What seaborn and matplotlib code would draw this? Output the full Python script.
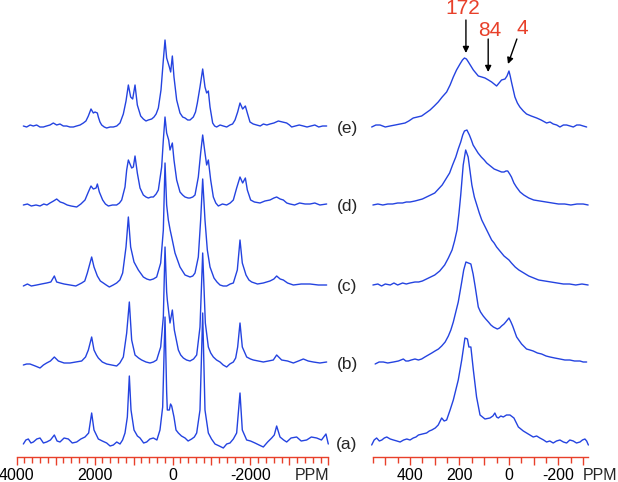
import matplotlib
matplotlib.use("Agg")
import matplotlib.pyplot as plt
from matplotlib.ticker import FixedLocator, FixedFormatter
import seaborn as sns

sns.set_style("white")
plt.rcParams["font.family"] = ["Liberation Sans", "DejaVu Sans"]

BLUE = "#2443e0"
RED = "#e8402a"

labels = ["(a)", "(b)", "(c)", "(d)", "(e)"]
offsets = [15, 95, 172, 252, 331]

# wide sweep spectra: (ppm, intensity above own baseline)
wide_a = [(3825, -2), (3760, 2), (3697, 3), (3630, -1), (3568, 0), (3480, 3), (3397, 4),
          (3310, -1), (3227, 0), (3130, 2), (3030, 7), (2960, 1), (2885, 0), (2780, 4),
          (2671, 3), (2570, -1), (2457, 0), (2350, 3), (2244, 5), (2150, 9), (2073, 29),
          (2013, 12), (1902, 3), (1800, 1), (1688, -1), (1600, -4), (1517, -3), (1430, 0),
          (1346, -2), (1280, 2), (1218, 9), (1158, 25), (1107, 66), (1064, 32), (987, 12),
          (900, 6), (833, 4), (740, -1), (662, 0), (580, 3), (491, 4), (400, 2), (321, 12),
          (252, 35), (192, 125), (150, 50), (133, 32), (81, 32), (50, 38), (21, 36),
          (-38, 25), (-90, 12), (-150, 9), (-230, 6), (-321, 4), (-400, 1), (-491, 3),
          (-560, 5), (-620, 9), (-705, 32), (-774, 129), (-833, 32), (-919, 9), (-1000, 3),
          (-1090, -2), (-1200, -4), (-1303, -6), (-1390, -2), (-1474, -1), (-1560, 3),
          (-1645, 9), (-1731, 49), (-1790, 12), (-1902, 2), (-2000, 1), (-2115, -1),
          (-2220, -3), (-2329, -5), (-2440, 0), (-2543, 4), (-2610, 7), (-2671, 16),
          (-2757, 5), (-2850, 2), (-2928, 0), (-3040, 4), (-3184, 5), (-3300, 1), (-3440, 2),
          (-3560, 5), (-3697, 4), (-3820, 2), (-3935, 8), (-3995, -2)]

wide_b = [(3825, -3), (3740, -2), (3654, -2), (3520, -4), (3397, -6), (3310, -3), (3227, -1),
          (3130, 1), (3030, 5), (2927, 1), (2780, -1), (2628, -1), (2480, 0), (2329, 1),
          (2230, 5), (2158, 12), (2073, 25), (2013, 12), (1950, 7), (1902, 4), (1800, 0),
          (1688, -2), (1560, -3), (1432, -4), (1350, -1), (1261, 5), (1175, 29), (1107, 60),
          (1047, 22), (961, 7), (870, 4), (791, 2), (680, 0), (577, -1), (490, 0), (406, 2),
          (303, 15), (235, 45), (192, 115), (150, 70), (133, 62), (64, 39), (4, 52),
          (-47, 32), (-150, 12), (-210, 7), (-278, 4), (-360, 2), (-449, 1), (-540, 3),
          (-620, 7), (-705, 35), (-774, 109), (-842, 39), (-919, 15), (-980, 9), (-1047, 5),
          (-1130, 2), (-1218, 0), (-1300, -3), (-1389, -5), (-1470, -2), (-1560, 0),
          (-1620, 4), (-1671, 15), (-1731, 39), (-1790, 15), (-1902, 5), (-2000, 3),
          (-2073, 2), (-2200, 1), (-2329, 0), (-2460, 1), (-2585, 2), (-2671, 7), (-2799, 2),
          (-2950, 1), (-3099, -1), (-3230, 1), (-3355, 3), (-3480, 1), (-3611, 0),
          (-3780, -1), (-3953, 0)]

wide_c = [(3825, -1), (3720, 1), (3620, -1), (3483, 0), (3360, 1), (3227, 2), (3120, 3),
          (3030, 9), (2970, 3), (2880, 2), (2780, 1), (2628, 0), (2480, -1), (2329, 2),
          (2250, 4), (2184, 12), (2073, 28), (2013, 18), (1927, 9), (1850, 4), (1774, 2),
          (1700, 0), (1620, -2), (1520, 0), (1432, 2), (1350, 5), (1278, 12), (1192, 38),
          (1132, 68), (1073, 38), (987, 23), (876, 15), (748, 8), (660, 6), (577, 5),
          (490, 6), (406, 8), (303, 22), (235, 55), (192, 122), (150, 80), (107, 65),
          (60, 55), (21, 48), (-64, 32), (-192, 18), (-321, 10), (-449, 8), (-520, 9),
          (-577, 12), (-662, 28), (-722, 65), (-774, 106), (-833, 65), (-893, 35),
          (-962, 18), (-1064, 7), (-1140, 3), (-1218, 0), (-1300, -1), (-1389, -1),
          (-1480, 1), (-1560, 2), (-1662, 15), (-1731, 45), (-1790, 22), (-1885, 10),
          (-1960, 5), (-2030, 3), (-2180, 1), (-2329, 2), (-2500, 4), (-2600, 6), (-2671, 9),
          (-2760, 6), (-2842, 5), (-2950, 2), (-3099, 0), (-3300, 1), (-3526, 1),
          (-3740, 0), (-3953, 0)]

wide_d = [(3825, 0), (3720, 1), (3620, -1), (3500, 0), (3397, -1), (3300, 1), (3220, 0),
          (3141, 2), (3050, 4), (2970, 6), (2880, 3), (2799, 2), (2700, 0), (2600, -1),
          (2457, -2), (2350, 1), (2244, 5), (2158, 13), (2090, 19), (2030, 16), (1960, 17),
          (1927, 21), (1876, 13), (1791, 5), (1720, 1), (1645, -1), (1540, 0), (1432, 0),
          (1360, 2), (1303, 5), (1218, 18), (1175, 35), (1132, 45), (1047, 37), (1004, 38),
          (961, 49), (902, 32), (833, 17), (748, 10), (680, 8), (620, 7), (550, 8),
          (491, 8), (420, 11), (363, 15), (278, 38), (235, 65), (192, 88), (150, 72),
          (98, 65), (64, 55), (4, 62), (-38, 45), (-107, 25), (-192, 13), (-260, 10),
          (-321, 8), (-400, 7), (-449, 7), (-520, 8), (-577, 10), (-662, 28), (-722, 52),
          (-774, 70), (-833, 52), (-876, 40), (-919, 45), (-979, 25), (-1047, 8),
          (-1110, 2), (-1175, -1), (-1280, 1), (-1389, 0), (-1480, 2), (-1560, 5),
          (-1645, 17), (-1731, 28), (-1799, 22), (-1868, 27), (-1919, 15), (-2004, 5),
          (-2100, 3), (-2244, 2), (-2370, 4), (-2500, 5), (-2600, 7), (-2671, 8),
          (-2760, 6), (-2842, 5), (-2930, 2), (-3013, 1), (-3130, 0), (-3260, 2),
          (-3400, 1), (-3526, 1), (-3650, 2), (-3780, 0), (-3953, 1)]

wide_e = [(3825, 0), (3740, -1), (3650, 1), (3570, 0), (3483, 1), (3400, -1), (3312, -1),
          (3230, 0), (3141, 1), (3056, 3), (2970, 1), (2885, 2), (2800, 0), (2714, 0),
          (2630, -1), (2543, -1), (2460, 0), (2370, 1), (2286, 3), (2220, 5), (2158, 10),
          (2090, 17), (2030, 13), (1987, 14), (1927, 13), (1902, 9), (1860, 4), (1816, 1),
          (1750, -1), (1688, -2), (1600, -1), (1517, -1), (1430, 0), (1346, 3), (1261, 12),
          (1192, 25), (1132, 41), (1073, 29), (1021, 27), (961, 41), (902, 21), (816, 10),
          (748, 7), (680, 5), (620, 6), (534, 7), (474, 9), (420, 12), (363, 18), (295, 36),
          (235, 66), (192, 86), (150, 68), (81, 59), (47, 54), (4, 70), (-38, 49),
          (-107, 26), (-192, 13), (-260, 9), (-321, 8), (-390, 6), (-449, 6), (-534, 9),
          (-590, 14), (-637, 23), (-705, 39), (-774, 57), (-833, 39), (-876, 33),
          (-919, 35), (-962, 19), (-1030, 3), (-1080, 0), (-1132, -1), (-1220, 1),
          (-1303, 0), (-1390, -1), (-1474, 1), (-1540, 2), (-1603, 6), (-1671, 14),
          (-1731, 23), (-1799, 17), (-1868, 20), (-1919, 13), (-1987, 4), (-2070, 2),
          (-2158, 1), (-2250, 0), (-2330, 2), (-2420, 1), (-2500, 2), (-2600, 3),
          (-2714, 5), (-2820, 4), (-2928, 3), (-3000, 1), (-3056, -1), (-3150, 0),
          (-3250, 1), (-3355, 0), (-3450, -1), (-3550, 0), (-3650, 1), (-3750, -1),
          (-3850, 0), (-3953, 0)]

# narrow window spectra
narrow_a = [(555, -3), (545, 2), (535, 4), (524, 1), (514, 2), (504, 4), (494, 5), (480, 3),
            (467, 2), (453, 1), (440, 0), (426, 2), (413, 3), (400, 2), (387, 4), (376, 5),
            (366, 7), (350, 8), (333, 9), (322, 11), (312, 12), (298, 14), (286, 17),
            (272, 24), (262, 21), (252, 22), (238, 32), (225, 42), (205, 62), (191, 82),
            (178, 104), (168, 103), (162, 95), (154, 95), (144, 72), (131, 45), (117, 27),
            (97, 23), (77, 24), (65, 26), (57, 29), (50, 25), (43, 24), (33, 26), (23, 25),
            (10, 27), (-4, 27), (-20, 24), (-38, 15), (-58, 11), (-78, 8), (-98, 5),
            (-112, 6), (-125, 4), (-140, 2), (-152, 0), (-165, 1), (-179, -1), (-192, 1),
            (-206, 2), (-220, 0), (-233, -1), (-246, 2), (-260, 1), (-273, -1), (-287, 0),
            (-297, 2), (-307, 3), (-314, 1), (-321, -3)]

narrow_b = [(541, -2), (525, 0), (508, 0), (490, -1), (467, 0), (447, 1), (427, 3), (417, 1),
            (407, 1), (395, 2), (380, 3), (366, 2), (353, 3), (340, 5), (326, 7), (312, 9),
            (299, 11), (285, 13), (272, 16), (258, 20), (245, 26), (235, 32), (225, 40),
            (215, 50), (205, 60), (198, 70), (191, 80), (183, 92), (174, 100), (164, 99),
            (154, 98), (145, 88), (137, 76), (124, 55), (115, 50), (104, 46), (94, 43),
            (83, 40), (73, 37), (63, 35), (55, 34), (47, 33), (38, 34), (30, 36), (20, 38),
            (13, 40), (0, 44), (-8, 40), (-15, 36), (-31, 25), (-51, 18), (-71, 13),
            (-85, 12), (-98, 11), (-115, 9), (-132, 8), (-150, 6), (-166, 5), (-185, 4),
            (-206, 3), (-226, 2), (-246, 2), (-265, 1), (-287, 1), (-300, 0), (-314, 0)]

narrow_c = [(550, 0), (530, 1), (515, -1), (500, 1), (480, 0), (465, 2), (450, 0),
            (430, 2), (415, 1), (400, 2), (380, 3), (365, 3), (350, 4), (325, 7), (300, 10),
            (280, 14), (260, 20), (245, 27), (230, 35), (220, 44), (210, 55), (202, 72),
            (195, 90), (185, 120), (175, 135), (165, 128), (158, 115), (150, 100), (140, 88),
            (130, 80), (120, 72), (110, 65), (100, 60), (90, 55), (80, 50), (70, 45),
            (60, 42), (50, 38), (40, 35), (30, 32), (20, 29), (10, 27), (0, 25), (-10, 22),
            (-25, 18), (-40, 15), (-60, 12), (-80, 9), (-100, 7), (-120, 5), (-145, 4),
            (-170, 3), (-195, 2), (-220, 1), (-245, 1), (-270, 0), (-295, 1), (-320, 0)]

narrow_d = [(550, 0), (530, 1), (510, 0), (490, 1), (470, 1), (450, 2), (430, 2),
            (415, 3), (400, 3), (380, 4), (365, 5), (350, 6), (325, 9), (300, 12),
            (285, 16), (270, 20), (255, 26), (240, 32), (228, 40), (215, 48), (205, 56),
            (195, 63), (187, 70), (180, 74), (170, 75), (160, 70), (152, 65), (145, 60),
            (135, 56), (125, 52), (112, 48), (100, 45), (90, 42), (80, 40), (70, 38),
            (60, 36), (50, 35), (40, 34), (30, 33), (20, 33), (12, 34), (5, 34), (-3, 31),
            (-10, 28), (-20, 22), (-30, 18), (-45, 13), (-60, 10), (-80, 7), (-100, 5),
            (-125, 4), (-150, 3), (-175, 2), (-200, 1), (-225, 1), (-250, 0), (-275, 1),
            (-300, 1), (-320, 0)]

narrow_e = [(555, -1), (538, 1), (521, 1), (500, -1), (481, 0), (460, 1), (440, 2),
            (420, 3), (405, 5), (387, 8), (370, 9), (353, 10), (336, 13), (319, 16),
            (302, 20), (286, 24), (270, 29), (252, 34), (238, 41), (225, 49), (212, 56),
            (198, 62), (188, 66), (180, 68), (172, 67), (164, 64), (154, 60), (144, 56),
            (134, 53), (124, 50), (110, 49), (97, 48), (83, 46), (70, 44), (60, 42),
            (50, 40), (40, 43), (30, 46), (16, 47), (8, 50), (0, 55), (-5, 50), (-11, 43),
            (-24, 29), (-34, 23), (-44, 19), (-58, 15), (-71, 12), (-90, 10), (-112, 8),
            (-130, 6), (-152, 3), (-166, 4), (-179, 2), (-193, 1), (-206, -1), (-220, 1),
            (-233, 1), (-247, 0), (-260, -1), (-274, 1), (-287, 1), (-300, 0), (-314, -1)]

peak_labels = ["172", "84", "4"]
peak_ppm = [174, 84, 4]

wide = [wide_a, wide_b, wide_c, wide_d, wide_e]
narrow = [narrow_a, narrow_b, narrow_c, narrow_d, narrow_e]

W, H = 618, 482
fig = plt.figure(figsize=(W / 100, H / 100), dpi=100)
ax_l = fig.add_axes([10 / W, 25 / H, 325 / W, 457 / H])
ax_r = fig.add_axes([365 / W, 25 / H, 235 / W, 457 / H])

for ax, spectra in ((ax_l, wide), (ax_r, narrow)):
    for spec, off in zip(spectra, offsets):
        x = [p for p, _ in spec]
        y = [v + off for _, v in spec]
        sns.lineplot(x=x, y=y, ax=ax, color=BLUE, lw=1.0, sort=False, estimator=None)
    ax.set_ylim(0, 457)
    ax.set_yticks([])
    for s in ("left", "right", "top"):
        ax.spines[s].set_visible(False)
    ax.spines["bottom"].set_color(RED)
    ax.spines["bottom"].set_linewidth(1.0)
    ax.tick_params(axis="x", which="both", bottom=True, colors=RED,
                   labelcolor="black", direction="out", width=1)
    ax.tick_params(axis="x", which="major", length=6, labelsize=11.5, pad=2)
    ax.tick_params(axis="x", which="minor", length=4)
    ax.set_xlabel("")

# wide axis: 4000 .. -4000
ax_l.set_xlim(4167, -4167)
ax_l.spines["bottom"].set_bounds(4000, -4000)
l_major = list(range(4000, -4001, -1000))
ax_l.xaxis.set_major_locator(FixedLocator(l_major))
ax_l.xaxis.set_major_formatter(FixedFormatter(
    [str(v) if v in (4000, 2000, 0, -2000) else "" for v in l_major]))
ax_l.xaxis.set_minor_locator(FixedLocator(list(range(4000, -4001, -200))))

# narrow axis: 550 .. -320
ax_r.set_xlim(582, -368)
ax_r.spines["bottom"].set_bounds(550, -320)
r_major = list(range(500, -301, -100))
ax_r.xaxis.set_major_locator(FixedLocator(r_major))
ax_r.xaxis.set_major_formatter(FixedFormatter(
    [str(v) if v in (400, 200, 0, -200) else "" for v in r_major]))
ax_r.xaxis.set_minor_locator(FixedLocator(list(range(550, -301, -50))))

fig.text(329 / W, 1 - 475 / H, "PPM", ha="right", va="center", fontsize=11.5)
fig.text(617 / W, 1 - 475 / H, "PPM", ha="right", va="center", fontsize=11.5)

label_y = [444, 364, 286, 207, 129]
for lab, yy in zip(labels, label_y):
    fig.text(347 / W, 1 - yy / H, lab, ha="center", va="center", fontsize=12.5)

# peak annotations on the top narrow spectrum
ax_r.text(186, 449, peak_labels[0], color=RED, ha="center", va="center", fontsize=15)
ax_r.text(77, 427, peak_labels[1], color=RED, ha="center", va="center", fontsize=15)
ax_r.text(-55, 428, peak_labels[2], color=RED, ha="center", va="center", fontsize=15)
arrow = dict(arrowstyle="-|>", color="black", lw=1, mutation_scale=9,
             shrinkA=0, shrinkB=0)
ax_r.annotate("", xy=(peak_ppm[0], 404), xytext=(peak_ppm[0], 437), arrowprops=arrow)
ax_r.annotate("", xy=(peak_ppm[1], 385), xytext=(peak_ppm[1], 418), arrowprops=arrow)
ax_r.annotate("", xy=(peak_ppm[2], 393), xytext=(-32, 418), arrowprops=arrow)

fig.savefig("out.png", dpi=100)
